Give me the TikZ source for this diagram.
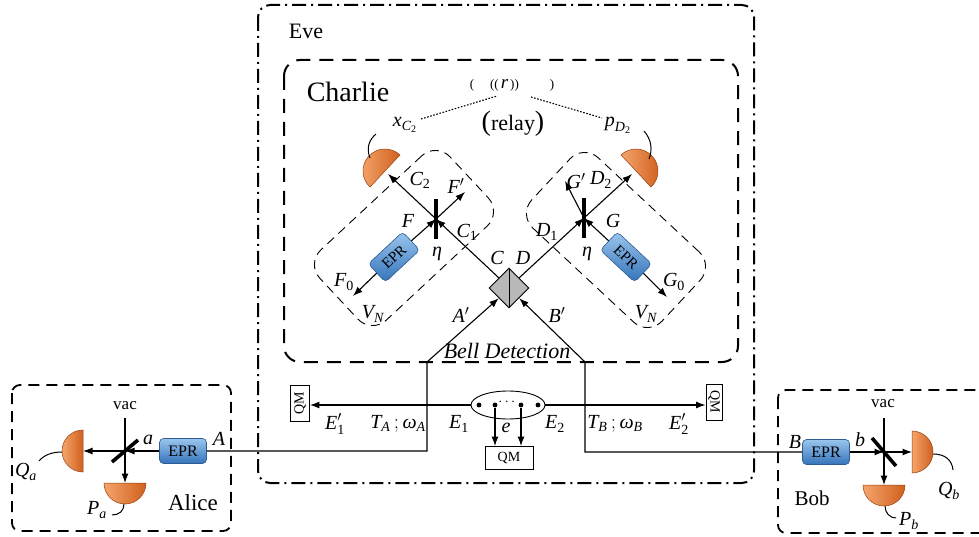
\documentclass[tikz,border=0pt]{standalone}
\usepackage{fontspec}
\setmainfont{Liberation Serif}
\usepackage{amsmath}
\usetikzlibrary{arrows.meta,shapes.geometric,calc}
\newcommand\mv[1]{\text{\itshape #1}}
\newcommand\mr[1]{\text{\upshape #1}}
\definecolor{detA}{HTML}{F4A56C}
\definecolor{detB}{HTML}{D0601E}
\definecolor{detD}{HTML}{9A4010}
\definecolor{eprA}{HTML}{9AC6EE}
\definecolor{eprB}{HTML}{3573BA}
\definecolor{eprD}{HTML}{2C5C92}
\newcommand\detector[3]{\begin{scope}[shift={(#1)},rotate=#2,x=1pt,y=1pt]
  \path[detfill] (0,-#3) arc[start angle=-90,end angle=90,radius=#3] -- cycle;
\end{scope}}
\begin{document}
\begin{tikzpicture}[x=1pt,y=-1pt,
  beam/.style={line width=1.1pt},
  arr/.style={beam,-{Latex[length=9.5pt,width=7pt]}},
  bsbar/.style={line width=3.6pt},
  wire/.style={line width=1pt},
  lab/.style={font=\fontsize{20}{22}\selectfont, inner sep=0pt},
  eprbox/.style={draw=eprD, line width=0.6pt, rounded corners=4pt, top color=eprA, bottom color=eprB,
     minimum width=47pt, minimum height=25pt, inner sep=0pt, font=\fontsize{16}{16}\selectfont},
  qm/.style={draw, line width=0.9pt, inner sep=0pt, font=\fontsize{14}{14}\selectfont},
  detfill/.style={draw=detD, line width=0.5pt, left color=detA, right color=detB},
  module/.style={draw, line width=0.9pt, dash pattern=on 9pt off 6pt, rounded corners=20pt,
     minimum width=178pt, minimum height=96pt, inner sep=0pt},
  dot/.style={circle, fill, inner sep=0pt, minimum size=4.8pt},
  dots/.style={line width=1.1pt, dash pattern=on 1.6pt off 1.6pt},
]
\path[use as bounding box] (0,0) rectangle (979,537);
\clip (0,0) rectangle (979,537);

% ---------- frames ----------
\draw[line width=2pt, dash pattern=on 14pt off 5pt on 2pt off 5pt, rounded corners=12pt] (258,5) rectangle (754,483);
\draw[line width=2pt, dash pattern=on 14pt off 9pt, rounded corners=16pt] (284,60) rectangle (738,362);
\draw[line width=1.8pt, dash pattern=on 11pt off 7pt, rounded corners=8pt] (12,385) rectangle (231,531);
\draw[line width=1.8pt, dash pattern=on 11pt off 7pt, rounded corners=8pt] (778,390) rectangle (995,533);

\node[font=\fontsize{22}{24}\selectfont, anchor=base] (eve) at (306,39) {Eve};
\node[font=\fontsize{28}{30}\selectfont, anchor=base] (charlie) at (348,102) {Charlie};
\node[font=\fontsize{23}{25}\selectfont, anchor=base] (alice) at (193,510) {Alice};
\node[font=\fontsize{21}{23}\selectfont, anchor=base] (bob) at (812,505) {Bob};

% ---------- Charlie: Bell detection ----------
\node[diamond, draw, fill=black!28, line width=0.9pt, minimum width=40pt, minimum height=40pt, inner sep=0pt] (bell) at (509,288) {};
\draw[line width=0.9pt] (bell.north) -- (bell.south);
\node[font=\itshape\fontsize{22}{24}\selectfont, inner sep=0pt] (belllab) at (507,351) {Bell Detection};

\coordinate (bs1) at (436,219);
\coordinate (bs2) at (584,218);
\coordinate (ltip) at (388,174);
\coordinate (rtip) at (632,174);
\coordinate (fp) at (465,192);
\coordinate (f0) at (353,296);
\coordinate (gp) at (565,181);
\coordinate (g0) at (667,297);

\node[module, rotate=43] (modL) at (404,238) {};
\node[module, rotate=-43] (modR) at (616,240) {};

\node[eprbox, rotate=43, font=\fontsize{15}{15}\selectfont] (lepr) at (394,257) {EPR};
\node[eprbox, rotate=-43, font=\fontsize{15}{15}\selectfont] (repr) at (626,257) {EPR};

\draw[arr] (bell.north west) -- (bs1);
\draw[arr] (bs1) -- (ltip);
\draw[arr] (lepr.east) -- (bs1);
\draw[arr] (bs1) -- (fp);
\draw[arr] (lepr.west) -- (f0);
\draw[bsbar] (bs1) ++(0,-20) -- ++(0,40);

\draw[arr] (bell.north east) -- (bs2);
\draw[arr] (bs2) -- (rtip);
\draw[arr] (repr.west) -- (bs2);
\draw[arr] (bs2) -- (gp);
\draw[arr] (repr.east) -- (g0);
\draw[bsbar] (bs2) ++(0,-20) -- ++(0,40);

\detector{385,171}{137}{22}
\detector{636,171}{43}{22}
\draw[wire] (370,158) .. controls (366,148) and (369,140) .. (376,134);
\draw[wire] (649,159) .. controls (653,149) and (651,139) .. (644,131);

\node[lab] (xc) at (405,125) {$\mv{x}_{\mv{C}_{\mr{2}}}$};
\node[lab] (pd) at (618,125) {$\mv{p}_{\mv{D}_{\mr{2}}}$};
\node[inner sep=0pt] (relay) at (512,85) {\fontsize{13}{14}\selectfont (\hspace{16pt}((\hspace{2pt}{\fontsize{19}{19}\selectfont\itshape r}\hspace{2pt}))\hspace{31pt})};
\node[inner sep=0pt] (relaytxt) at (513,124) {{\fontsize{28}{28}\selectfont(}{\fontsize{22}{22}\selectfont relay}{\fontsize{28}{28}\selectfont)}};
\coordinate (dl1) at (421,119);
\coordinate (dl2) at (497,96);
\coordinate (dr1) at (531,97);
\coordinate (dr2) at (602,118);
\draw[dots] (dl1) -- (dl2);
\draw[dots] (dr1) -- (dr2);

\node[lab] at (420,180) {$\mv{C}_{\mr{2}}$};
\node[lab] at (456,186) {$\mv{F}'$};
\node[lab] at (408,221) {$\mv{F}$};
\node[lab] at (467,232) {$\mv{C}_{\mr{1}}$};
\node[lab] at (437,254) {$\mv{η}$};
\node[lab] at (497,258) {$\mv{C}$};
\node[lab] at (344,282) {$\mv{F}_{\mr{0}}$};
\node[lab] at (373,314) {$\mv{V}_{\mv{N}}$};
\node[lab] at (576,181) {$\mv{G}'$};
\node[lab] at (601,180) {$\mv{D}_{\mr{2}}$};
\node[lab] at (613,221) {$\mv{G}$};
\node[lab] at (547,232) {$\mv{D}_{\mr{1}}$};
\node[lab] at (587,254) {$\mv{η}$};
\node[lab] at (523,258) {$\mv{D}$};
\node[lab] at (674,282) {$\mv{G}_{\mr{0}}$};
\node[lab] at (646,314) {$\mv{V}_{\mv{N}}$};
\node[lab] at (461,315) {$\mv{A}'$};
\node[lab] at (557,315) {$\mv{B}'$};

% ---------- Eve ----------
\coordinate (e1) at (427,405);
\coordinate (e2) at (585,405);
\coordinate (cl) at (427,451);
\coordinate (ctl) at (427,362);
\coordinate (cr) at (585,452);
\coordinate (ctr) at (585,362);

\node[qm, rotate=90, minimum width=36pt, minimum height=19pt] (qmL) at (300,403) {QM};
\node[qm, rotate=-90, minimum width=36pt, minimum height=16pt] (qmR) at (714,402) {QM};
\node[qm, minimum width=48pt, minimum height=23pt] (qmB) at (509,458) {QM};
\node[ellipse, draw, line width=0.9pt, minimum width=74pt, minimum height=28pt, inner sep=0pt] (ell) at (508,405) {};
\node[dot] (d1) at (479,405) {};
\node[dot] (d2) at (495,405) {};
\node[dot] (d3) at (521,405) {};
\node[dot] (d4) at (538,405) {};
\node[inner sep=0pt, font=\fontsize{14}{14}\selectfont] (dots) at (508,402) {$\cdots$};

\draw[arr] (e1) -- (qmL.south |- e1);
\draw[beam] (e1) -- (ell.west);
\draw[beam] (ell.east) -- (e2);
\draw[arr] (e2) -- (qmR.south |- e2);
\draw[arr] (d2) -- (qmB.north -| d2);
\draw[arr] (d3) -- (qmB.north -| d3);

\node[lab] at (335,424) {$\mv{E}'_{\mr{1}}$};
\node[lab] at (398,424) {$\mv{T}_{\mv{A}}\,;\mv{ω}_{\mv{A}}$};
\node[lab] at (459,424) {$\mv{E}_{\mr{1}}$};
\node[lab] at (506,428) {$\mv{e}$};
\node[lab] at (555,424) {$\mv{E}_{\mr{2}}$};
\node[lab] at (615,424) {$\mv{T}_{\mv{B}}\,;\mv{ω}_{\mv{B}}$};
\node[lab] at (679,424) {$\mv{E}'_{\mr{2}}$};

% ---------- Alice ----------
\node[eprbox] (aepr) at (183,451) {EPR};
\coordinate (abs) at (125,451);
\coordinate (avac) at (125,418);
\coordinate (aq) at (83,451);
\coordinate (ap) at (125,483);
\draw[arr] (aepr.east) -- (cl) -- (ctl) -- (bell.south west);
\draw[arr] (aepr.west) -- (abs);
\draw[arr] (abs) -- (aq);
\draw[arr] (avac) -- (ap);
\draw[bsbar] (abs) ++(-13,11) -- ++(26,-22);
\detector{aq}{180}{21}
\detector{ap}{-90}{21}
\draw[wire] (62,452) .. controls (52,452) and (44,455) .. (39,461);
\draw[wire] (124,504) .. controls (124,511) and (119,515) .. (112,515);
\node[font=\fontsize{17}{17}\selectfont, inner sep=0pt] (avl) at (125,406) {vac};
\node[lab] at (148,440) {$\mv{a}$};
\node[lab] at (219,439) {$\mv{A}$};
\node[lab] at (26,472) {$\mv{Q}_{\mv{a}}$};
\node[lab] at (97,510) {$\mv{P}_{\mv{a}}$};

% ---------- Bob ----------
\node[eprbox] (bepr) at (826,452) {EPR};
\coordinate (bbs) at (884,452);
\coordinate (bvac) at (884,418);
\coordinate (bq) at (912,452);
\coordinate (bp) at (884,485);
\draw[arr] (bepr.west) -- (cr) -- (ctr) -- (bell.south east);
\draw[arr] (bepr.east) -- (bbs);
\draw[arr] (bbs) -- (bq);
\draw[arr] (bvac) -- (bp);
\draw[bsbar] (bbs) ++(-12,-14) -- ++(24,28);
\detector{bq}{0}{21}
\detector{bp}{-90}{21}
\draw[wire] (933,454) .. controls (945,454) and (952,460) .. (953,470);
\draw[wire] (885,506) .. controls (885,513) and (890,518) .. (896,518);
\node[font=\fontsize{17}{17}\selectfont, inner sep=0pt] (bvl) at (883,404) {vac};
\node[lab] at (860,440) {$\mv{b}$};
\node[lab] at (795,442) {$\mv{B}$};
\node[lab] at (949,491) {$\mv{Q}_{\mv{b}}$};
\node[lab] at (909,521) {$\mv{P}_{\mv{b}}$};
\end{tikzpicture}
\end{document}
